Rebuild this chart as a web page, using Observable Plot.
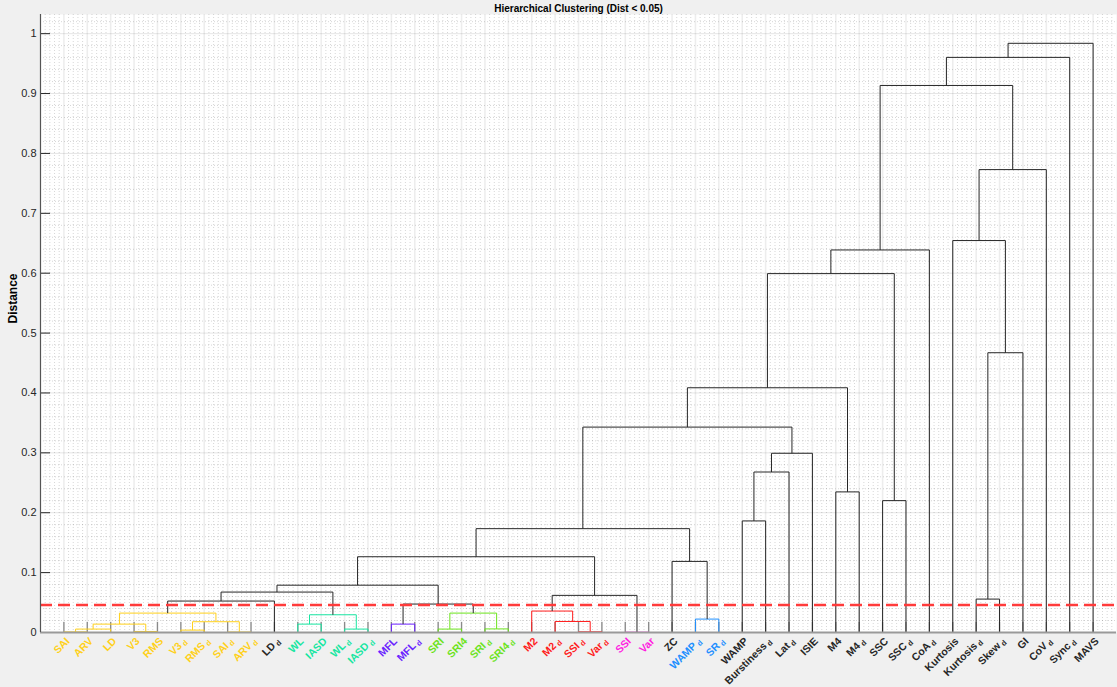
<!DOCTYPE html>
<html>
<head>
<meta charset="utf-8">
<script src="https://cdn.jsdelivr.net/npm/d3@7"></script>
<script src="https://cdn.jsdelivr.net/npm/@observablehq/plot@0.6"></script>
<style>
  html, body { margin: 0; padding: 0; background: #f0f0f0; }
  #chart svg { display: block; }
</style>
</head>
<body>
<div id="chart"></div>
<script>
// Leaf order of the dendrogram (left to right); "_d" marks the subscripted variant
const leaves = [
  "SAI", "ARV", "LD", "V3", "RMS", "V3_d", "RMS_d", "SAI_d", "ARV_d", "LD_d",
  "WL", "IASD", "WL_d", "IASD_d", "MFL", "MFL_d", "SRI", "SRI4", "SRI_d", "SRI4_d",
  "M2", "M2_d", "SSI_d", "Var_d", "SSI", "Var", "ZC", "WAMP_d", "SR_d", "WAMP",
  "Burstiness_d", "Lat_d", "ISIE", "M4", "M4_d", "SSC", "SSC_d", "CoA_d", "Kurtosis", "Kurtosis_d",
  "Skew_d", "GI", "CoV_d", "Sync_d", "MAVS"
];

// Cluster colour of each leaf (black = singleton)
const Y = "#ffd01a", C = "#17e6a1", P = "#6a1fff", G = "#6be31b",
      R = "#ff1c1c", M = "#ff1ce0", B = "#1e8fff", K = "#262626";
const leafColors = [
  Y, Y, Y, Y, Y, Y, Y, Y, Y, K,
  C, C, C, C, P, P, G, G, G, G,
  R, R, R, R, M, M, K, B, B, K,
  K, K, K, K, K, K, K, K, K, K,
  K, K, K, K, K
];

// Linkage: each merge joins two nodes (a leaf name or "#k" = k-th merge) at a distance
const linkLeft = [
  "SAI", "#1", "V3", "#2", "V3_d", "SAI_d", "#5", "#4", "#8", "WL",
  "WL_d", "#10", "#9", "MFL", "SRI", "SRI_d", "#15", "#14", "#13", "SSI_d",
  "M2_d", "M2", "SSI", "#22", "#19", "WAMP_d", "ZC", "#25", "WAMP", "#29",
  "#30", "#28", "M4", "#32", "SSC", "#34", "#36", "Kurtosis_d", "#38", "Kurtosis",
  "#40", "#37", "#42", "#43"
];
const linkRight = [
  "ARV", "LD", "RMS", "#3", "RMS_d", "ARV_d", "#6", "#7", "LD_d", "IASD",
  "IASD_d", "#11", "#12", "MFL_d", "SRI4", "SRI4_d", "#16", "#17", "#18", "Var_d",
  "#20", "#21", "Var", "#23", "#24", "SR_d", "#26", "#27", "Burstiness_d", "Lat_d",
  "ISIE", "#31", "M4_d", "#33", "SSC_d", "#35", "CoA_d", "Skew_d", "GI", "#39",
  "CoV_d", "#41", "Sync_d", "MAVS"
];
const linkHeight = [
  0.001, 0.0057, 0.0017, 0.014, 0.004, 0.0008, 0.018, 0.0324, 0.0525, 0.014,
  0.0057, 0.0296, 0.0675, 0.014, 0.0057, 0.006, 0.0324, 0.0475, 0.079, 0.0012,
  0.0184, 0.0358, 0.0005, 0.062, 0.1265, 0.0224, 0.1187, 0.1734, 0.1863, 0.268,
  0.2993, 0.343, 0.2348, 0.4087, 0.2202, 0.5993, 0.6388, 0.0558, 0.4672, 0.6545,
  0.773, 0.9135, 0.9604, 0.9839
];

const cutoff = 0.0458;
const yTicks = [0, 0.1, 0.2, 0.3, 0.4, 0.5, 0.6, 0.7, 0.8, 0.9, 1];
const titleText = "Hierarchical Clustering (Dist < 0.05)";
const yLabel = "Distance";

// Build the U-shaped segments of every merge
const nodes = new Map();
leaves.forEach((name, i) => nodes.set(name, {x: i + 1, h: 0, color: leafColors[i]}));
const segments = [];
linkLeft.forEach((a, k) => {
  const A = nodes.get(a), Bn = nodes.get(linkRight[k]), h = linkHeight[k];
  const color = (h < cutoff && A.color === Bn.color && A.color !== K) ? A.color : K;
  segments.push(
    {x1: A.x, y1: A.h, x2: A.x, y2: h, color},
    {x1: A.x, y1: h, x2: Bn.x, y2: h, color},
    {x1: Bn.x, y1: Bn.h, x2: Bn.x, y2: h, color}
  );
  nodes.set("#" + (k + 1), {x: (A.x + Bn.x) / 2, h, color});
});

const W = 1117, H = 687;
const mL = 40, mR = 1, mT = 14, mB = 55;
const plotW = W - mL - mR, plotH = H - mT - mB;
const xMax = leaves.length + 1;
const leafPos = leaves.map((d, i) => i + 1);
const minorX = d3.range(0, xMax + 0.001, 0.2).filter(v => Math.abs(v - Math.round(v)) > 1e-6);
const minorY = d3.range(0, 1.031, 0.02).filter(v => Math.abs(v * 10 - Math.round(v * 10)) > 1e-6);

const chart = Plot.plot({
  width: W,
  height: H,
  marginLeft: mL,
  marginRight: mR,
  marginTop: mT,
  marginBottom: mB,
  style: {background: "#f0f0f0", fontFamily: "'Liberation Sans', Arial, sans-serif", overflow: "visible"},
  x: {domain: [0, xMax], axis: null},
  y: {domain: [0, 1.032], axis: null},
  marks: [
    Plot.frame({fill: "#ffffff", stroke: "none"}),
    // minor dotted grid
    Plot.ruleX(minorX, {stroke: "#000", strokeOpacity: 0.16, strokeDasharray: "1,2"}),
    Plot.ruleY(minorY, {stroke: "#000", strokeOpacity: 0.16, strokeDasharray: "1,2"}),
    // major grid
    Plot.ruleX(leafPos, {stroke: "#000", strokeOpacity: 0.07, strokeWidth: 1.6}),
    Plot.ruleY(yTicks, {stroke: "#000", strokeOpacity: 0.1}),
    // inward tick marks
    Plot.ruleX(leafPos, {insetTop: plotH - 10, stroke: "#8a8a8a", strokeWidth: 1.3}),
    Plot.ruleY(yTicks, {insetRight: plotW - 10, stroke: "#262626"}),
    // dendrogram
    Plot.link(segments, {x1: "x1", y1: "y1", x2: "x2", y2: "y2", stroke: "color", strokeWidth: 1}),
    // cut-off line
    Plot.ruleY([cutoff], {stroke: "#ff3b3b", strokeWidth: 2.6, strokeDasharray: "12,6"}),
    // axis lines
    Plot.ruleY([0], {stroke: "#9a9a9a", strokeWidth: 2}),
    Plot.ruleX([0], {stroke: "#555", strokeWidth: 1.2}),
    // y tick labels
    Plot.text(yTicks, {x: 0, y: d => d, text: d => String(d), textAnchor: "end", dx: -4, fontSize: 11, fill: "#262626"}),
    // leaf labels
    Plot.text(leaves, {
      x: (d, i) => i + 1, y: () => 0, text: d => d,
      rotate: -45, textAnchor: "end", fill: (d, i) => leafColors[i],
      fontWeight: "bold", fontSize: 10.5, dx: 4, dy: 7, className: "leaf-labels"
    }),
    // title and axis label
    Plot.text([titleText], {frameAnchor: "top", dy: -10, fontWeight: "bold", fontSize: 10, fill: "#000"}),
    Plot.text([yLabel], {frameAnchor: "left", dx: -27, rotate: -90, fontWeight: "bold", fontSize: 12, fill: "#000"})
  ]
});

// Render "_d" suffixes as a subscript d
chart.querySelectorAll(".leaf-labels text").forEach(t => {
  const s = t.textContent;
  if (s.endsWith("_d")) {
    t.textContent = s.slice(0, -2);
    const ts = document.createElementNS("http://www.w3.org/2000/svg", "tspan");
    ts.setAttribute("font-size", "0.72em");
    ts.setAttribute("dx", "2");
    ts.setAttribute("dy", "0.25em");
    ts.textContent = "d";
    t.appendChild(ts);
  }
});

document.getElementById("chart").appendChild(chart);
</script>
</body>
</html>
